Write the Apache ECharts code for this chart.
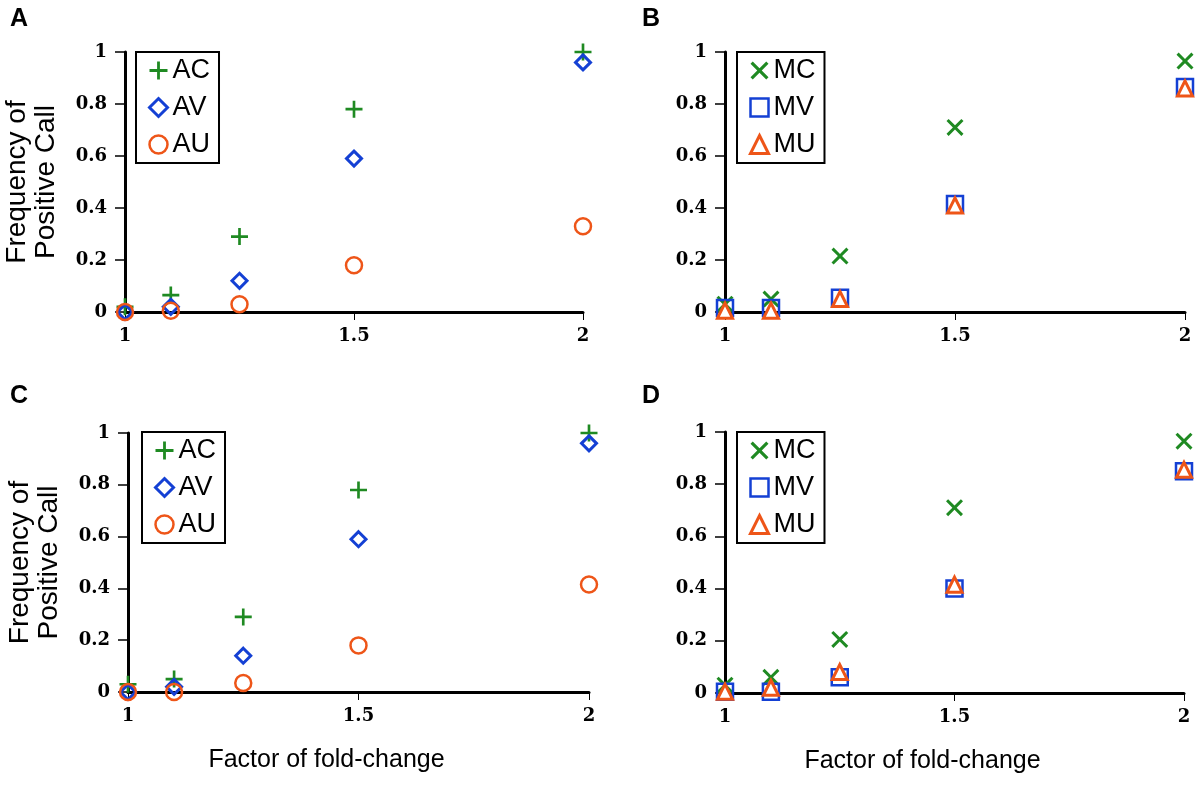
<!DOCTYPE html>
<html lang="en">
<head>
    <meta charset="UTF-8">
    <title>Frequency of Positive Call</title>
    <style>
        html, body {
            margin: 0;
            height: 100%;
            background: #fff;
        }
        #main {
            width: 1199px;
            height: 791px;
        }
    </style>
    <script src="https://cdn.jsdelivr.net/npm/echarts@6/dist/echarts.min.js"></script>
</head>
<body>
    <div id="main"></div>
    <script>
        const factors = [1, 1.1, 1.25, 1.5, 2]
        const xTicks = [1, 1.5, 2]
        const yTicks = [0, 0.2, 0.4, 0.6, 0.8, 1]

        // panel A
        const aAC = [0.02, 0.065, 0.29, 0.78, 1.0]
        const aAV = [0.0, 0.02, 0.12, 0.59, 0.96]
        const aAU = [0.0, 0.005, 0.03, 0.18, 0.33]
        // panel B
        const bMC = [0.03, 0.05, 0.215, 0.71, 0.965]
        const bMV = [0.015, 0.015, 0.055, 0.415, 0.865]
        const bMU = [0.005, 0.005, 0.05, 0.41, 0.86]
        // panel C
        const cAC = [0.03, 0.05, 0.29, 0.78, 1.0]
        const cAV = [0.0, 0.02, 0.14, 0.59, 0.96]
        const cAU = [0.0, 0.0, 0.035, 0.18, 0.415]
        // panel D
        const dMC = [0.03, 0.06, 0.205, 0.71, 0.965]
        const dMV = [0.005, 0.005, 0.06, 0.40, 0.85]
        const dMU = [0.005, 0.02, 0.08, 0.415, 0.855]

        const GREEN = '#1f8a22'
        const BLUE = '#1440d4'
        const ORANGE = '#ee5518'

        const PLUS = 'path://M6.75,0h2.5v6.75h6.75v2.5h-6.75v6.75h-2.5v-6.75h-6.75v-2.5h6.75z'
        const CROSS = 'path://M2,0L8,6L14,0L16,2L10,8L16,14L14,16L8,10L2,16L0,14L6,8L0,2Z'

        const styles = {
            AC: { symbol: PLUS, symbolSize: 17, itemStyle: { color: GREEN, borderWidth: 0, opacity: 1 } },
            AV: { symbol: 'diamond', symbolSize: 15, itemStyle: { color: 'rgba(255,255,255,0)', borderColor: BLUE, borderWidth: 3, opacity: 1 } },
            AU: { symbol: 'circle', symbolSize: 16, itemStyle: { color: 'rgba(255,255,255,0)', borderColor: ORANGE, borderWidth: 2.5, opacity: 1 } },
            MC: { symbol: CROSS, symbolSize: 17, itemStyle: { color: GREEN, borderWidth: 0, opacity: 1 } },
            MV: { symbol: 'rect', symbolSize: 16, itemStyle: { color: 'rgba(255,255,255,0)', borderColor: BLUE, borderWidth: 2.5, opacity: 1 } },
            MU: { symbol: 'triangle', symbolSize: 15, itemStyle: { color: '#fff', borderColor: ORANGE, borderWidth: 3, opacity: 1 } }
        }

        const grids = [
            { left: 125, top: 52, width: 458, height: 260 },
            { left: 725, top: 52, width: 460, height: 260 },
            { left: 128, top: 433, width: 461, height: 259 },
            { left: 725, top: 432, width: 459, height: 261 }
        ]

        const tickFont = {
            fontFamily: 'DejaVu Serif',
            fontSize: 18,
            fontWeight: 'bold',
            color: '#000'
        }

        function xAxis (i) {
            const ax = {
                type: 'value',
                gridIndex: i,
                min: 1,
                max: 2,
                interval: 0.5,
                axisLine: { lineStyle: { color: '#000', width: 3 } },
                axisTick: { length: 8, lineStyle: { color: '#000', width: 1 } },
                axisLabel: Object.assign({ margin: 15, formatter: v => xTicks.includes(v) ? String(v) : '' }, tickFont),
                splitLine: { show: false }
            }
            if (i >= 2) {
                ax.name = 'Factor of fold-change'
                ax.nameLocation = 'middle'
                ax.nameGap = 56
                ax.nameTextStyle = { fontFamily: 'Liberation Sans', fontSize: 25, color: '#000', padding: [0, 64, 0, 0] }
            }
            return ax
        }

        function yAxis (i) {
            const ax = {
                type: 'value',
                gridIndex: i,
                min: 0,
                max: 1,
                interval: 0.2,
                axisLine: { onZero: false, lineStyle: { color: '#000', width: 3 } },
                axisTick: { length: 10, lineStyle: { color: '#000', width: 1.5 } },
                axisLabel: Object.assign({ margin: 18, formatter: v => yTicks.includes(v) ? String(v) : '' }, tickFont),
                splitLine: { show: false }
            }
            if (i % 2 === 0) {
                ax.name = 'Frequency of\nPositive Call'
                ax.nameLocation = 'middle'
                ax.nameGap = 64
                ax.nameTextStyle = { fontFamily: 'Liberation Sans', fontSize: 28, lineHeight: 29, color: '#000' }
            }
            return ax
        }

        function makeSeries (name, values, i) {
            return Object.assign({
                type: 'scatter',
                name: name,
                xAxisIndex: i,
                yAxisIndex: i,
                data: factors.map((x, k) => [x, values[k]])
            }, styles[name])
        }

        function makeLegend (names, left, top) {
            return {
                orient: 'vertical',
                left: left,
                top: top,
                padding: [5, 9, 5, 12],
                itemGap: 10,
                itemWidth: 18,
                itemHeight: 18,
                borderColor: '#000',
                borderWidth: 2,
                selectedMode: false,
                textStyle: { fontFamily: 'Liberation Sans', fontSize: 27, color: '#000' },
                data: names.map(n => ({ name: n, itemStyle: { borderWidth: styles[n].itemStyle.borderWidth } }))
            }
        }

        const letterStyle = { fontFamily: 'Liberation Sans', fontSize: 25, fontWeight: 'bold', color: '#000' }

        const option = {
            backgroundColor: '#fff',
            animation: false,
            title: [
                { text: 'A', left: 5, top: 2, textStyle: letterStyle },
                { text: 'B', left: 637, top: 2, textStyle: letterStyle },
                { text: 'C', left: 5, top: 379, textStyle: letterStyle },
                { text: 'D', left: 637, top: 379, textStyle: letterStyle }
            ],
            grid: grids,
            xAxis: [0, 1, 2, 3].map(xAxis),
            yAxis: [0, 1, 2, 3].map(yAxis),
            legend: [
                makeLegend(['AC', 'AV', 'AU'], 136, 52),
                makeLegend(['MC', 'MV', 'MU'], 737, 52),
                makeLegend(['AC', 'AV', 'AU'], 142, 432),
                makeLegend(['MC', 'MV', 'MU'], 737, 432)
            ],
            series: [
                makeSeries('AC', aAC, 0),
                makeSeries('AV', aAV, 0),
                makeSeries('AU', aAU, 0),
                makeSeries('MC', bMC, 1),
                makeSeries('MV', bMV, 1),
                makeSeries('MU', bMU, 1),
                makeSeries('AC', cAC, 2),
                makeSeries('AV', cAV, 2),
                makeSeries('AU', cAU, 2),
                makeSeries('MC', dMC, 3),
                makeSeries('MV', dMV, 3),
                makeSeries('MU', dMU, 3)
            ]
        }

        const chart = echarts.init(document.getElementById('main'))
        chart.setOption(option)
    </script>
</body>
</html>
